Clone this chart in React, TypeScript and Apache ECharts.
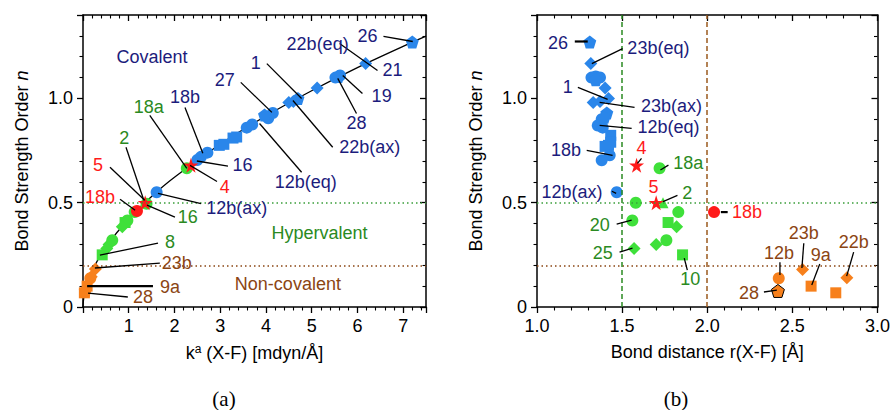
import React, { useEffect, useRef } from "react";
import * as echarts from "echarts";

const FONT = "'Liberation Sans', Arial, Helvetica, sans-serif";
const SERIF = "'Liberation Serif', 'DejaVu Serif', serif";

const NAVY = "#1c1c7c";
const GREEN_T = "#2a8a22";
const BROWN = "#8b4513";
const RED = "#ff1a1a";
const BLUE_M = "#2a86ea";
const GREEN_M = "#3fe03a";
const ORANGE_M = "#f7801c";

const PENTAGON = "path://M0,-10 L9.51,-3.09 L5.88,8.09 L-5.88,8.09 L-9.51,-3.09 Z";
const STAR =
  "path://M0,-10 L2.245,-3.09 L9.51,-3.09 L3.633,1.18 L5.88,8.09 L0,3.82 L-5.88,8.09 L-3.633,1.18 L-9.51,-3.09 L-2.245,-3.09 Z";

// ---------- Panel (a): k^a (X-F) [mdyn/Å] vs bond strength order n ----------
const aBlueCircle = [[1.61, 0.55], [2.5, 0.705], [2.58, 0.72], [2.72, 0.74], [3.58, 0.86], [3.7, 0.875], [4.05, 0.905], [4.15, 0.93], [5.52, 1.1], [5.62, 1.11]];
const aBlueSquare = [[2.98, 0.775], [3.08, 0.78], [3.28, 0.81], [3.36, 0.815]];
const aBlueDiamond = [[4.5, 0.98], [4.6, 0.985], [5.12, 1.05], [6.18, 1.167]];
const aBluePentagon = [[3.97, 0.92], [4.7, 1.0], [5.58, 1.105], [7.2, 1.27]];
const aGreenCircle = [[2.27, 0.665], [1.39, 0.495], [1.13, 0.455], [0.97, 0.415], [0.64, 0.32]];
const aGreenSquare = [[0.92, 0.405], [0.42, 0.25]];
const aGreenDiamond = [[0.86, 0.385], [0.57, 0.3], [0.52, 0.28]];
const aGreenTriangle = [[1.35, 0.5]];
const aRedStar = [[2.36, 0.68], [1.36, 0.5]];
const aRedCircle = [[1.18, 0.46]];
const aOrangeCircle = [[0.16, 0.138]];
const aOrangeSquare = [[0.09, 0.1], [0.03, 0.068]];
const aOrangeDiamond = [[0.27, 0.182], [0.18, 0.145]];
const aOrangePentagon = [[0.05, 0.078]];

// fitted curve
const curveK = [0, 0.02, 0.1, 0.25, 0.5, 1, 1.5, 2, 3, 4, 5, 6, 7, 7.5];
const curveN = [0, 0.048, 0.117, 0.195, 0.288, 0.423, 0.53, 0.622, 0.78, 0.916, 1.037, 1.148, 1.25, 1.299];

// ---------- Panel (b): r(X-F) [Å] vs bond strength order n ----------
const bBlueCircle = [[1.32, 1.1], [1.345, 1.105], [1.37, 1.1], [1.38, 0.9], [1.357, 0.87], [1.386, 0.86], [1.427, 0.727], [1.38, 0.703], [1.468, 0.55]];
const bBlueSquare = [[1.433, 0.823], [1.433, 0.79], [1.4, 0.77], [1.42, 0.775]];
const bBlueDiamond = [[1.316, 1.167], [1.4, 1.05], [1.42, 1.0], [1.33, 0.98], [1.37, 0.985]];
const bBluePentagon = [[1.31, 1.27], [1.345, 1.09], [1.41, 0.93], [1.395, 0.91]];
const bGreenCircle = [[1.72, 0.665], [1.58, 0.5], [1.83, 0.455], [1.56, 0.415], [1.76, 0.32]];
const bGreenSquare = [[1.77, 0.405], [1.855, 0.25]];
const bGreenDiamond = [[1.82, 0.385], [1.7, 0.3], [1.57, 0.28]];
const bGreenTriangle = [[1.74, 0.5]];
const bRedStar = [[1.585, 0.68], [1.7, 0.5]];
const bRedCircle = [[2.04, 0.455]];
const bOrangeCircle = [[2.42, 0.138]];
const bOrangeSquare = [[2.61, 0.1], [2.755, 0.068]];
const bOrangeDiamond = [[2.56, 0.18], [2.82, 0.14]];
const bOrangePentagon = [[2.415, 0.077]];

// reference lines
const nLevels = [0.5, 0.2];
const rLevels = [1.5, 2.0];

// tick labels
const yTickLabels = ["0", "0.5", "1.0"];

// annotations (data units): label at (x,y), leader line l = [x1,y1,x2,y2]
type Ann = { t: string; c: string; x: number; y: number; l?: number[]; w?: number };
const annA: Ann[] = [
  { t: "26", c: NAVY, x: 6.22, y: 1.3, l: [6.57, 1.297, 7.21, 1.273] },
  { t: "22b(eq)", c: NAVY, x: 5.13, y: 1.263, l: [5.61, 1.263, 6.44, 1.134] },
  { t: "21", c: NAVY, x: 6.77, y: 1.134 },
  { t: "19", c: NAVY, x: 6.53, y: 1.01, l: [6.11, 1.024, 5.68, 1.11] },
  { t: "28", c: NAVY, x: 5.98, y: 0.88, l: [5.98, 0.928, 5.57, 1.096] },
  { t: "22b(ax)", c: NAVY, x: 6.27, y: 0.766, l: [5.46, 0.766, 4.59, 0.99] },
  { t: "12b(eq)", c: NAVY, x: 4.87, y: 0.598, l: [3.86, 0.88, 4.78, 0.646] },
  { t: "27", c: NAVY, x: 3.1, y: 1.086, l: [3.45, 1.077, 4.13, 0.933] },
  { t: "1", c: NAVY, x: 3.78, y: 1.172, l: [4.02, 1.167, 4.78, 1.0] },
  { t: "18b", c: NAVY, x: 2.23, y: 1.005, l: [2.23, 0.957, 2.62, 0.737] },
  { t: "16", c: NAVY, x: 3.49, y: 0.68, l: [3.17, 0.675, 2.49, 0.7] },
  { t: "12b(ax)", c: NAVY, x: 3.36, y: 0.476, l: [1.64, 0.545, 2.58, 0.496] },
  { t: "Covalent", c: NAVY, x: 1.51, y: 1.2 },
  { t: "18a", c: GREEN_T, x: 1.44, y: 0.957, l: [1.46, 0.919, 2.27, 0.665] },
  { t: "4", c: RED, x: 3.1, y: 0.576, l: [2.93, 0.602, 2.34, 0.679] },
  { t: "2", c: GREEN_T, x: 0.9, y: 0.809, l: [0.94, 0.766, 1.33, 0.512] },
  { t: "5", c: RED, x: 0.33, y: 0.679, l: [0.59, 0.67, 1.35, 0.512] },
  { t: "18b", c: RED, x: 0.37, y: 0.526, l: [0.81, 0.517, 1.14, 0.464] },
  { t: "16", c: GREEN_T, x: 2.29, y: 0.431, l: [2.01, 0.431, 1.4, 0.488] },
  { t: "8", c: GREEN_T, x: 1.9, y: 0.311, l: [1.64, 0.306, 0.37, 0.249] },
  { t: "Hypervalent", c: GREEN_T, x: 5.17, y: 0.354 },
  { t: "23b", c: BROWN, x: 2.05, y: 0.21, l: [1.68, 0.21, 0.26, 0.187] },
  { t: "9a", c: BROWN, x: 1.9, y: 0.096, l: [1.53, 0.1, 0.09, 0.1], w: 2.2 },
  { t: "28", c: BROWN, x: 1.31, y: 0.048, l: [0.98, 0.048, 0.11, 0.067] },
  { t: "Non-covalent", c: BROWN, x: 4.48, y: 0.11 },
];
const annB: Ann[] = [
  { t: "26", c: NAVY, x: 1.123, y: 1.268, l: [1.222, 1.273, 1.298, 1.273], w: 2.2 },
  { t: "23b(eq)", c: NAVY, x: 1.713, y: 1.244, l: [1.503, 1.239, 1.322, 1.167] },
  { t: "1", c: NAVY, x: 1.181, y: 1.057, l: [1.24, 1.053, 1.415, 0.995] },
  { t: "23b(ax)", c: NAVY, x: 1.79, y: 0.962, l: [1.573, 0.957, 1.368, 0.981] },
  { t: "12b(eq)", c: NAVY, x: 1.772, y: 0.861, l: [1.556, 0.856, 1.368, 0.871] },
  { t: "18b", c: NAVY, x: 1.17, y: 0.751, l: [1.292, 0.751, 1.444, 0.727] },
  { t: "12b(ax)", c: NAVY, x: 1.205, y: 0.55, l: [1.44, 0.555, 1.465, 0.545] },
  { t: "4", c: RED, x: 1.614, y: 0.761, l: [1.614, 0.713, 1.59, 0.689] },
  { t: "18a", c: GREEN_T, x: 1.889, y: 0.689, l: [1.725, 0.657, 1.772, 0.68] },
  { t: "5", c: RED, x: 1.684, y: 0.574 },
  { t: "2", c: GREEN_T, x: 1.883, y: 0.545, l: [1.825, 0.535, 1.74, 0.505] },
  { t: "20", c: GREEN_T, x: 1.368, y: 0.392, l: [1.468, 0.397, 1.556, 0.416] },
  { t: "25", c: GREEN_T, x: 1.386, y: 0.258, l: [1.485, 0.263, 1.561, 0.282] },
  { t: "10", c: GREEN_T, x: 1.9, y: 0.134, l: [1.883, 0.177, 1.865, 0.234] },
  { t: "18b", c: RED, x: 2.234, y: 0.455, l: [2.08, 0.455, 2.12, 0.455], w: 2.2 },
  { t: "12b", c: BROWN, x: 2.421, y: 0.258, l: [2.427, 0.215, 2.427, 0.153] },
  { t: "23b", c: BROWN, x: 2.567, y: 0.354, l: [2.567, 0.306, 2.556, 0.187] },
  { t: "9a", c: BROWN, x: 2.667, y: 0.249, l: [2.661, 0.206, 2.614, 0.105] },
  { t: "22b", c: BROWN, x: 2.86, y: 0.311, l: [2.86, 0.263, 2.819, 0.148] },
  { t: "28", c: BROWN, x: 2.246, y: 0.067, l: [2.333, 0.072, 2.409, 0.081] },
];

function scatter(data: number[][], symbol: string, color: string, size: number, ax: number, border?: string) {
  return {
    type: "scatter",
    xAxisIndex: ax,
    yAxisIndex: ax,
    data,
    symbol,
    symbolSize: size,
    z: 4,
    silent: true,
    itemStyle: { color, opacity: 1, borderColor: border || color, borderWidth: border ? 1 : 0 },
  };
}

function markerSeries(ax: number, d: Record<string, number[][]>, pentaBorder?: string) {
  return [
    scatter(d.blueSquare, "rect", BLUE_M, 11, ax),
    scatter(d.blueCircle, "circle", BLUE_M, 12, ax),
    scatter(d.blueDiamond, "diamond", BLUE_M, 13, ax),
    scatter(d.bluePentagon, PENTAGON, BLUE_M, 13, ax),
    scatter(d.greenSquare, "rect", GREEN_M, 11, ax),
    scatter(d.greenCircle, "circle", GREEN_M, 12, ax),
    scatter(d.greenDiamond, "diamond", GREEN_M, 13, ax),
    scatter(d.greenTriangle, "triangle", GREEN_M, 11, ax),
    scatter(d.orangeSquare, "rect", ORANGE_M, 11, ax),
    scatter(d.orangeCircle, "circle", ORANGE_M, 12, ax),
    scatter(d.orangeDiamond, "diamond", ORANGE_M, 13, ax),
    scatter(d.orangePentagon, PENTAGON, ORANGE_M, 13, ax, pentaBorder),
    scatter(d.redCircle, "circle", RED, 12, ax),
    scatter(d.redStar, STAR, RED, 15, ax),
  ];
}

function annSeries(list: Ann[], ax: number) {
  return {
    type: "custom",
    xAxisIndex: ax,
    yAxisIndex: ax,
    silent: true,
    z: 6,
    data: list.map((a) => [a.x, a.y]),
    encode: { x: 0, y: 1 },
    renderItem: (params: any, api: any) => {
      const a = list[params.dataIndex];
      const p = api.coord([a.x, a.y]);
      const children: any[] = [];
      if (a.l) {
        const p1 = api.coord([a.l[0], a.l[1]]);
        const p2 = api.coord([a.l[2], a.l[3]]);
        children.push({
          type: "line",
          shape: { x1: p1[0], y1: p1[1], x2: p2[0], y2: p2[1] },
          style: { stroke: "#000", lineWidth: a.w || 1.3 },
        });
      }
      children.push({
        type: "text",
        x: p[0],
        y: p[1],
        style: { text: a.t, fill: a.c, fontSize: 18, fontFamily: FONT, align: "center", verticalAlign: "middle" },
      });
      return { type: "group", children };
    },
  };
}

const axisLine = { show: true, onZero: false, lineStyle: { color: "#000", width: 1.5 } };

function yLabel(v: number) {
  if (Math.abs(v) < 1e-9) return yTickLabels[0];
  if (Math.abs(v - 0.5) < 1e-9) return yTickLabels[1];
  if (Math.abs(v - 1) < 1e-9) return yTickLabels[2];
  return "";
}

function valueAxis(gridIndex: number, position: string, min: number, max: number, interval: number, labels: boolean, fmt: (v: number) => string, extra: any = {}) {
  return {
    type: "value",
    gridIndex,
    position,
    min,
    max,
    interval,
    splitLine: { show: false },
    axisLine,
    axisTick: { show: true, inside: !labels, length: 6, lineStyle: { color: "#000", width: 1.3 } },
    minorTick: { show: true, splitNumber: 5, length: 3.5, lineStyle: { color: "#000", width: 1.1 } },
    axisLabel: { show: labels, margin: 10, color: "#000", fontSize: 18, fontFamily: FONT, formatter: fmt },
    ...extra,
  };
}

const nameStyle = {
  color: "#000",
  fontSize: 18,
  fontFamily: FONT,
  rich: {
    i: { fontStyle: "italic", fontSize: 18, fontFamily: FONT, color: "#000" },
    sup: { fontSize: 12, fontFamily: FONT, color: "#000", verticalAlign: "top", padding: [0, 0, 8, 0] },
    n: { fontSize: 18, fontFamily: FONT, color: "#000" },
  },
};

export default function App() {
  const ref = useRef<HTMLDivElement>(null);
  useEffect(() => {
    if (!ref.current) return;
    const chart = echarts.init(ref.current, undefined, { renderer: "svg" });
    const curve = curveK.map((k, i) => [k, curveN[i]]);
    const dotted = (c: string) => ({ color: c, type: [1.5, 3], width: 1.5 });
    const dashed = (c: string) => ({ color: c, type: [5, 3], width: 1.5 });
    const option: any = {
      animation: false,
      backgroundColor: "#fff",
      textStyle: { fontFamily: FONT },
      grid: [
        { left: 83, top: 15, width: 343, height: 292, containLabel: false },
        { left: 537, top: 15, width: 342, height: 292, containLabel: false },
      ],
      xAxis: [
        valueAxis(0, "bottom", 0, 7.5, 1, true, (v: number) => (v > 0 && Number.isInteger(v) ? String(v) : ""), {
          name: "k{sup|a}{n| (X-F) [mdyn/Å]}",
          nameLocation: "middle",
          nameGap: 36,
          nameTextStyle: nameStyle,
        }),
        valueAxis(0, "top", 0, 7.5, 1, false, () => ""),
        valueAxis(1, "bottom", 1, 3, 0.5, true, (v: number) => v.toFixed(1), {
          name: "Bond distance r(X-F) [Å]",
          nameLocation: "middle",
          nameGap: 36,
          nameTextStyle: nameStyle,
        }),
        valueAxis(1, "top", 1, 3, 0.5, false, () => ""),
      ],
      yAxis: [
        valueAxis(0, "left", 0, 1.4, 0.5, true, yLabel, {
          name: "Bond Strength Order {i|n}",
          nameLocation: "middle",
          nameGap: 52,
          nameTextStyle: nameStyle,
        }),
        valueAxis(0, "right", 0, 1.4, 0.5, false, () => ""),
        valueAxis(1, "left", 0, 1.4, 0.5, true, yLabel, {
          name: "Bond Strength Order {i|n}",
          nameLocation: "middle",
          nameGap: 52,
          nameTextStyle: nameStyle,
        }),
        valueAxis(1, "right", 0, 1.4, 0.5, false, () => ""),
      ],
      graphic: [
        { type: "text", x: 224, y: 399, style: { text: "(a)", fontSize: 21, fontFamily: SERIF, fill: "#000", align: "center", verticalAlign: "middle" } },
        { type: "text", x: 676, y: 399, style: { text: "(b)", fontSize: 21, fontFamily: SERIF, fill: "#000", align: "center", verticalAlign: "middle" } },
      ],
      series: [
        {
          type: "line",
          xAxisIndex: 0,
          yAxisIndex: 0,
          data: curve,
          smooth: 0.3,
          showSymbol: false,
          silent: true,
          z: 2,
          lineStyle: { color: "#000", width: 1.3 },
          markLine: {
            silent: true,
            symbol: "none",
            label: { show: false },
            data: [
              { yAxis: nLevels[0], lineStyle: dotted("#3a9e3a") },
              { yAxis: nLevels[1], lineStyle: dotted(BROWN) },
            ],
          },
        },
        {
          type: "scatter",
          xAxisIndex: 2,
          yAxisIndex: 2,
          data: [],
          silent: true,
          z: 2,
          markLine: {
            silent: true,
            symbol: "none",
            label: { show: false },
            data: [
              { yAxis: nLevels[0], lineStyle: dotted("#3a9e3a") },
              { yAxis: nLevels[1], lineStyle: dotted(BROWN) },
              { xAxis: rLevels[0], lineStyle: dashed("#2a8a22") },
              { xAxis: rLevels[1], lineStyle: dashed("#9b5a1e") },
            ],
          },
        },
        ...markerSeries(0, {
          blueSquare: aBlueSquare, blueCircle: aBlueCircle, blueDiamond: aBlueDiamond, bluePentagon: aBluePentagon,
          greenSquare: aGreenSquare, greenCircle: aGreenCircle, greenDiamond: aGreenDiamond, greenTriangle: aGreenTriangle,
          orangeSquare: aOrangeSquare, orangeCircle: aOrangeCircle, orangeDiamond: aOrangeDiamond, orangePentagon: aOrangePentagon,
          redCircle: aRedCircle, redStar: aRedStar,
        }),
        ...markerSeries(2, {
          blueSquare: bBlueSquare, blueCircle: bBlueCircle, blueDiamond: bBlueDiamond, bluePentagon: bBluePentagon,
          greenSquare: bGreenSquare, greenCircle: bGreenCircle, greenDiamond: bGreenDiamond, greenTriangle: bGreenTriangle,
          orangeSquare: bOrangeSquare, orangeCircle: bOrangeCircle, orangeDiamond: bOrangeDiamond, orangePentagon: bOrangePentagon,
          redCircle: bRedCircle, redStar: bRedStar,
        }, "#000"),
        annSeries(annA, 0),
        annSeries(annB, 2),
      ],
    };
    chart.setOption(option);
    return () => chart.dispose();
  }, []);
  return <div ref={ref} style={{ position: "absolute", left: 0, top: 0, width: 893, height: 410 }} />;
}
